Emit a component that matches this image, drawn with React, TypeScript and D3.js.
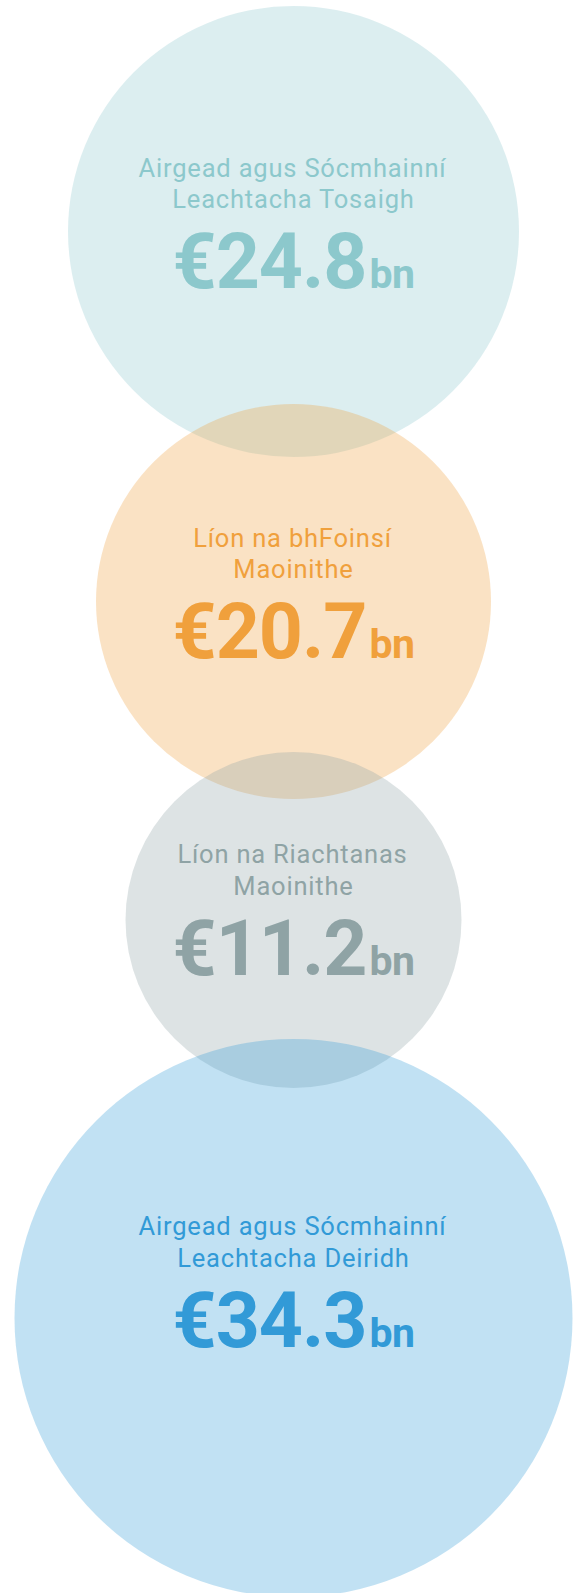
import React from "react";
import * as d3 from "d3";

// ---- data ----
const labelsLine1 = ["Airgead agus Sócmhainní", "Líon na bhFoinsí", "Líon na Riachtanas", "Airgead agus Sócmhainní"];
const labelsLine2 = ["Leachtacha Tosaigh", "Maoinithe", "Maoinithe", "Leachtacha Deiridh"];
const values = [24.8, 20.7, 11.2, 34.3];
const unit = "bn";
const currency = "€";
const colors = ["#8cc8cc", "#f0a03c", "#8fa3a5", "#329ad7"];

// ---- layout ----
const W = 575;
const H = 1593;
const CX = 293.5;
const TOP = 6;
const overlaps = [53, 47, 49];
const textShift = [0, 0, -2, -28];

export default function App() {
  const rScale = d3
    .scaleLinear()
    .domain([11.2, 20.7, 24.8, 34.3])
    .range([168, 197.5, 225.5, 279]);

  const circles: { cx: number; cy: number; r: number }[] = [];
  let top = TOP;
  values.forEach((v, i) => {
    const r = rScale(v);
    circles.push({ cx: CX, cy: top + r, r });
    top = top + 2 * r - (overlaps[i] ?? 0);
  });

  const fmt = d3.format(".1f");

  return (
    <div style={{ position: "absolute", left: 0, top: 0 }}>
      <svg width={W} height={H} style={{ display: "block" }}>
        <rect width={W} height={H} fill="#ffffff" />
        {circles.map((c, i) => (
          <circle key={"c" + i} cx={c.cx} cy={c.cy} r={c.r} fill={colors[i]} fillOpacity={0.3} />
        ))}
        {circles.map((c, i) => {
          const ty = c.cy + textShift[i];
          return (
            <g key={"t" + i} fill={colors[i]} textAnchor="middle">
              <text
                x={c.cx - 1}
                y={ty - 55}
                fontFamily="Roboto, sans-serif"
                fontSize={25.5}
                letterSpacing={0.8}
              >
                {labelsLine1[i]}
              </text>
              <text
                x={c.cx}
                y={ty - 23.5}
                fontFamily="Roboto, sans-serif"
                fontSize={25.5}
                letterSpacing={0.8}
              >
                {labelsLine2[i]}
              </text>
              <text x={c.cx} y={ty + 56.5} fontFamily="Roboto, sans-serif" fontWeight={700}>
                <tspan fontSize={77} letterSpacing={-1}>{currency + fmt(values[i])}</tspan>
                <tspan fontSize={41} dx={3} letterSpacing={-0.5}>{unit}</tspan>
              </text>
            </g>
          );
        })}
      </svg>
    </div>
  );
}
